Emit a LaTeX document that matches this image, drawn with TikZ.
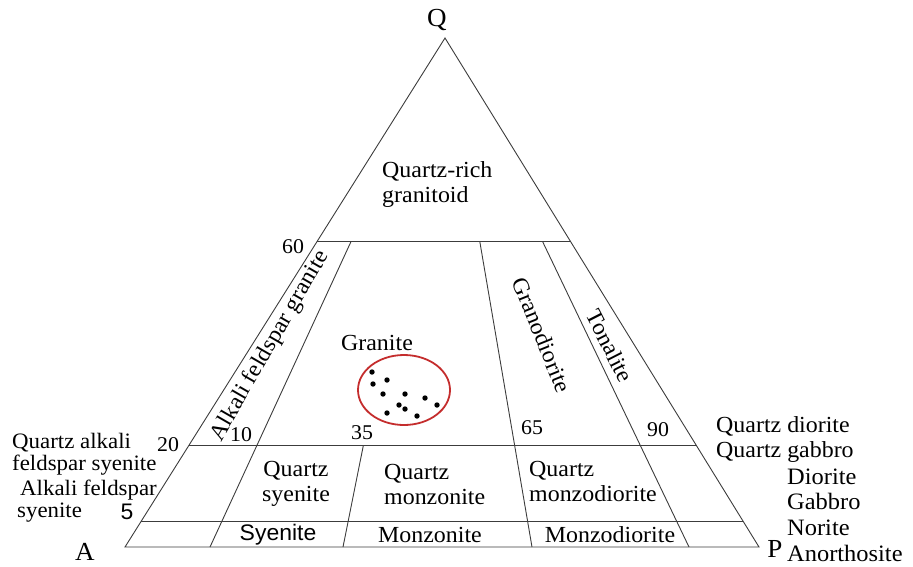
\documentclass[tikz,border=0pt]{standalone}
\usepackage{fontspec}
\setmainfont{Liberation Serif}[FakeStretch=1.04]
\setsansfont{Liberation Sans}[FakeStretch=1.02]
\usetikzlibrary{calc,shapes.geometric}
\definecolor{linec}{RGB}{60,60,60}
\definecolor{ellc}{RGB}{196,45,45}
\begin{document}
\begin{tikzpicture}[x=1pt,y=-1pt,
  edge/.style={draw=linec, line width=0.9pt},
  lbl/.style={font=\fontsize{23}{25}\selectfont, inner sep=0pt, text=black},
  leftlbl/.style={lbl, align=left, anchor=west},
  numlbl/.style={font=\fontsize{21}{24}\selectfont, inner sep=0pt},
  corner/.style={font=\fontsize{26}{30}\selectfont, inner sep=0pt},
  sanslbl/.style={font=\sffamily\fontsize{22.5}{25}\selectfont, inner sep=0pt},
  dot/.style={circle, fill=black, inner sep=0pt, minimum size=5.4pt},
]
\useasboundingbox (0,0) rectangle (913,566);
% triangle corners
\coordinate (A) at (125,547);
\coordinate (P) at (759,547);
\coordinate (Q) at (445,38);
% horizontal boundaries
\coordinate (L60) at ($(A)!0.6!(Q)$);
\coordinate (R60) at ($(P)!0.6!(Q)$);
\coordinate (L20) at ($(A)!0.2!(Q)$);
\coordinate (R20) at ($(P)!0.2!(Q)$);
\coordinate (L5) at ($(A)!0.05!(Q)$);
\coordinate (R5) at ($(P)!0.05!(Q)$);
% radial boundaries
\coordinate (B10) at (210,547);
\coordinate (B35) at (343,547);
\coordinate (B65) at (532,547);
\coordinate (B90) at (689,547);
\coordinate (T10) at ($(B10)!0.6!(Q)$);
\coordinate (T35) at ($(B35)!0.2!(Q)$);
\coordinate (T65) at ($(B65)!0.6!(Q)$);
\coordinate (T90) at ($(B90)!0.6!(Q)$);

\draw[edge] (A) -- (P) -- (Q) -- cycle;
\draw[edge] (L60) -- (R60);
\draw[edge] (L20) -- (R20);
\draw[edge] (L5) -- (R5);
\draw[edge] (T10) -- (B10);
\draw[edge] (T35) -- (B35);
\draw[edge] (T65) -- (B65);
\draw[edge] (T90) -- (B90);

% corner labels
\node[corner] (labQ) at (437,20) {Q};
\node[corner] (labA) at (85,552) {A};
\node[corner] (labP) at (775,549) {P};

% field names
\node[leftlbl] (qrg) at (382,184) {Quartz-rich\\granitoid};
\node[lbl, rotate=60] (afg) at (270,346) {Alkali feldspar granite};
\node[lbl, rotate=-68] (gd) at (542,335) {Granodiorite};
\node[lbl, rotate=-63] (ton) at (610,346) {Tonalite};
\node[lbl] (gr) at (377,343) {Granite};
\node[lbl, align=center] (qsy) at (296,484) {Quartz\\syenite};
\node[leftlbl] (qmz) at (384,484) {Quartz\\monzonite};
\node[leftlbl] (qmzd) at (529,481) {Quartz\\monzodiorite};
\node[sanslbl] (sy) at (278,535) {Syenite};
\node[lbl] (mz) at (430,535) {Monzonite};
\node[lbl] (mzd) at (610,535) {Monzodiorite};

% outer names
\node[leftlbl, font=\fontsize{22}{22.5}\selectfont] (qafs) at (12,454) {Quartz alkali\\feldspar syenite};
\node[leftlbl, font=\fontsize{22}{22.5}\selectfont] (afs) at (17,501) {\hspace{3pt}Alkali feldspar\\syenite};
\node[leftlbl] (qd) at (716,439) {Quartz diorite\\Quartz gabbro};
\node[leftlbl, font=\fontsize{23.5}{25.7}\selectfont] (dg) at (787,515) {Diorite\\Gabbro\\Norite\\Anorthosite};

% numbers
\node[numlbl] (n60) at (293,247) {60};
\node[numlbl] (n20) at (168,445) {20};
\node[numlbl] (n10) at (241,435) {10};
\node[numlbl] (n35) at (362,433) {35};
\node[numlbl] (n65) at (532,428) {65};
\node[numlbl] (n90) at (658,430) {90};
\node[sanslbl] (n5) at (127,512) {5};

% sample field
\node[draw=ellc, line width=1.8pt, ellipse, minimum width=92pt, minimum height=70pt, inner sep=0pt] (field) at (404,390) {};
\foreach \i/\p in {1/{(372,372)},2/{(373,384)},3/{(387,380)},4/{(383,394)},5/{(405,394)},6/{(425,398)},7/{(437,405)},8/{(399,405)},9/{(405,409)},10/{(387,413)},11/{(417,416)}}
  \node[dot] (d\i) at \p {};
\end{tikzpicture}
\end{document}
